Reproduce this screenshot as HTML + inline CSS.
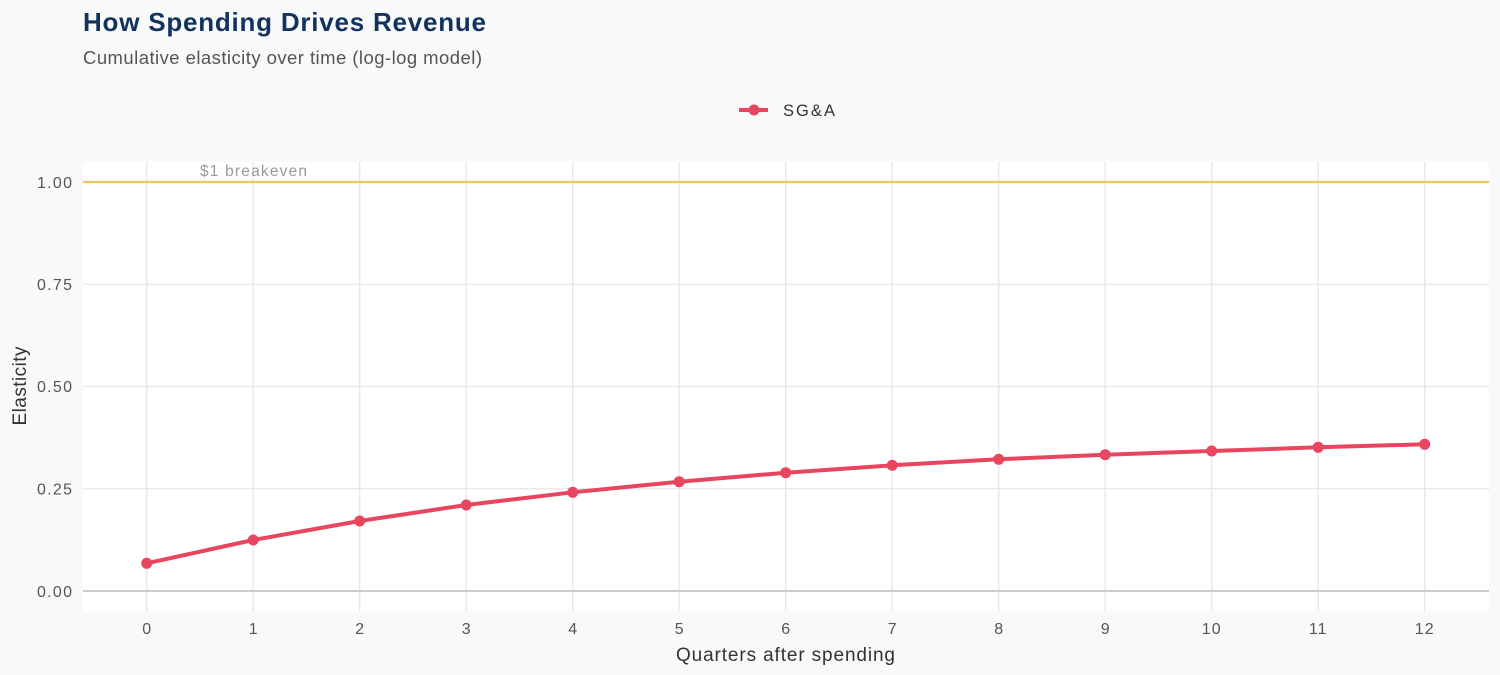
<!DOCTYPE html>
<html><head><meta charset="utf-8"><style>
html,body{margin:0;padding:0;background:#f8f9fa;}
svg{display:block;}
text{font-family:"Liberation Sans",Arial,sans-serif;}
</style></head><body>
<svg width="1500" height="675" viewBox="0 0 1500 675" xmlns="http://www.w3.org/2000/svg">
<rect x="0" y="0" width="1500" height="675" fill="#f8f9fa"/>
<text x="83" y="31" font-size="26" font-weight="bold" fill="#13325e" textLength="403" lengthAdjust="spacing">How Spending Drives Revenue</text>
<text x="83" y="64" font-size="18.5" fill="#555" textLength="399" lengthAdjust="spacing">Cumulative elasticity over time (log-log model)</text>
<!-- legend -->
<line x1="739" y1="110" x2="768" y2="110" stroke="#e8455f" stroke-width="4"/>
<circle cx="754" cy="110" r="5.5" fill="#e8455f"/>
<text x="783" y="116" font-size="16.5" fill="#333" textLength="52" lengthAdjust="spacing">SG&amp;A</text>
<!-- panel -->
<rect x="83" y="162" width="1406" height="449" fill="#ffffff"/>
<g stroke="#e6e6e6" stroke-width="1.3">
<line x1="83" y1="182" x2="1489" y2="182"/>
<line x1="83" y1="284.25" x2="1489" y2="284.25"/>
<line x1="83" y1="386.5" x2="1489" y2="386.5"/>
<line x1="83" y1="488.75" x2="1489" y2="488.75"/>
<line x1="146.7" y1="162" x2="146.7" y2="611"/>
<line x1="253.2" y1="162" x2="253.2" y2="611"/>
<line x1="359.7" y1="162" x2="359.7" y2="611"/>
<line x1="466.2" y1="162" x2="466.2" y2="611"/>
<line x1="572.7" y1="162" x2="572.7" y2="611"/>
<line x1="679.2" y1="162" x2="679.2" y2="611"/>
<line x1="785.7" y1="162" x2="785.7" y2="611"/>
<line x1="892.2" y1="162" x2="892.2" y2="611"/>
<line x1="998.7" y1="162" x2="998.7" y2="611"/>
<line x1="1105.2" y1="162" x2="1105.2" y2="611"/>
<line x1="1211.7" y1="162" x2="1211.7" y2="611"/>
<line x1="1318.2" y1="162" x2="1318.2" y2="611"/>
<line x1="1424.7" y1="162" x2="1424.7" y2="611"/>
</g>
<line x1="83" y1="591" x2="1489" y2="591" stroke="#cccccc" stroke-width="2"/>
<line x1="83" y1="182" x2="1489" y2="182" stroke="#f3c55e" stroke-width="2.2"/>
<text x="200" y="176" font-size="15.5" fill="#999" textLength="107" lengthAdjust="spacing">$1 breakeven</text>
<!-- series -->
<polyline fill="none" stroke="#e8455f" stroke-width="4" stroke-linejoin="round" points="146.7,563.3 253.2,540 359.7,521 466.2,505 572.7,492.3 679.2,481.7 785.7,472.7 892.2,465.3 998.7,459.3 1105.2,454.7 1211.7,451 1318.2,447.3 1424.7,444.3"/>
<g fill="#e8455f">
<circle cx="146.7" cy="563.3" r="5.5"/>
<circle cx="253.2" cy="540" r="5.5"/>
<circle cx="359.7" cy="521" r="5.5"/>
<circle cx="466.2" cy="505" r="5.5"/>
<circle cx="572.7" cy="492.3" r="5.5"/>
<circle cx="679.2" cy="481.7" r="5.5"/>
<circle cx="785.7" cy="472.7" r="5.5"/>
<circle cx="892.2" cy="465.3" r="5.5"/>
<circle cx="998.7" cy="459.3" r="5.5"/>
<circle cx="1105.2" cy="454.7" r="5.5"/>
<circle cx="1211.7" cy="451" r="5.5"/>
<circle cx="1318.2" cy="447.3" r="5.5"/>
<circle cx="1424.7" cy="444.3" r="5.5"/>
</g>
<!-- y ticks -->
<g font-size="16" fill="#555" text-anchor="end">
<text x="72" y="188" textLength="35" lengthAdjust="spacing">1.00</text>
<text x="72" y="290" textLength="35" lengthAdjust="spacing">0.75</text>
<text x="72" y="392" textLength="35" lengthAdjust="spacing">0.50</text>
<text x="72" y="494.5" textLength="35" lengthAdjust="spacing">0.25</text>
<text x="72" y="597" textLength="35" lengthAdjust="spacing">0.00</text>
</g>
<!-- x ticks -->
<g font-size="16" fill="#555" text-anchor="middle">
<text x="146.7" y="634">0</text>
<text x="253.2" y="634">1</text>
<text x="359.7" y="634">2</text>
<text x="466.2" y="634">3</text>
<text x="572.7" y="634">4</text>
<text x="679.2" y="634">5</text>
<text x="785.7" y="634">6</text>
<text x="892.2" y="634">7</text>
<text x="998.7" y="634">8</text>
<text x="1105.2" y="634">9</text>
<text x="1211.7" y="634" letter-spacing="1">10</text>
<text x="1318.2" y="634" letter-spacing="1">11</text>
<text x="1424.7" y="634" letter-spacing="1">12</text>
</g>
<text x="676" y="661" font-size="19" fill="#333" textLength="219" lengthAdjust="spacing">Quarters after spending</text>
<text transform="translate(26,386) rotate(-90)" font-size="19" fill="#333" text-anchor="middle" textLength="79" lengthAdjust="spacing">Elasticity</text>
</svg>
</body></html>
